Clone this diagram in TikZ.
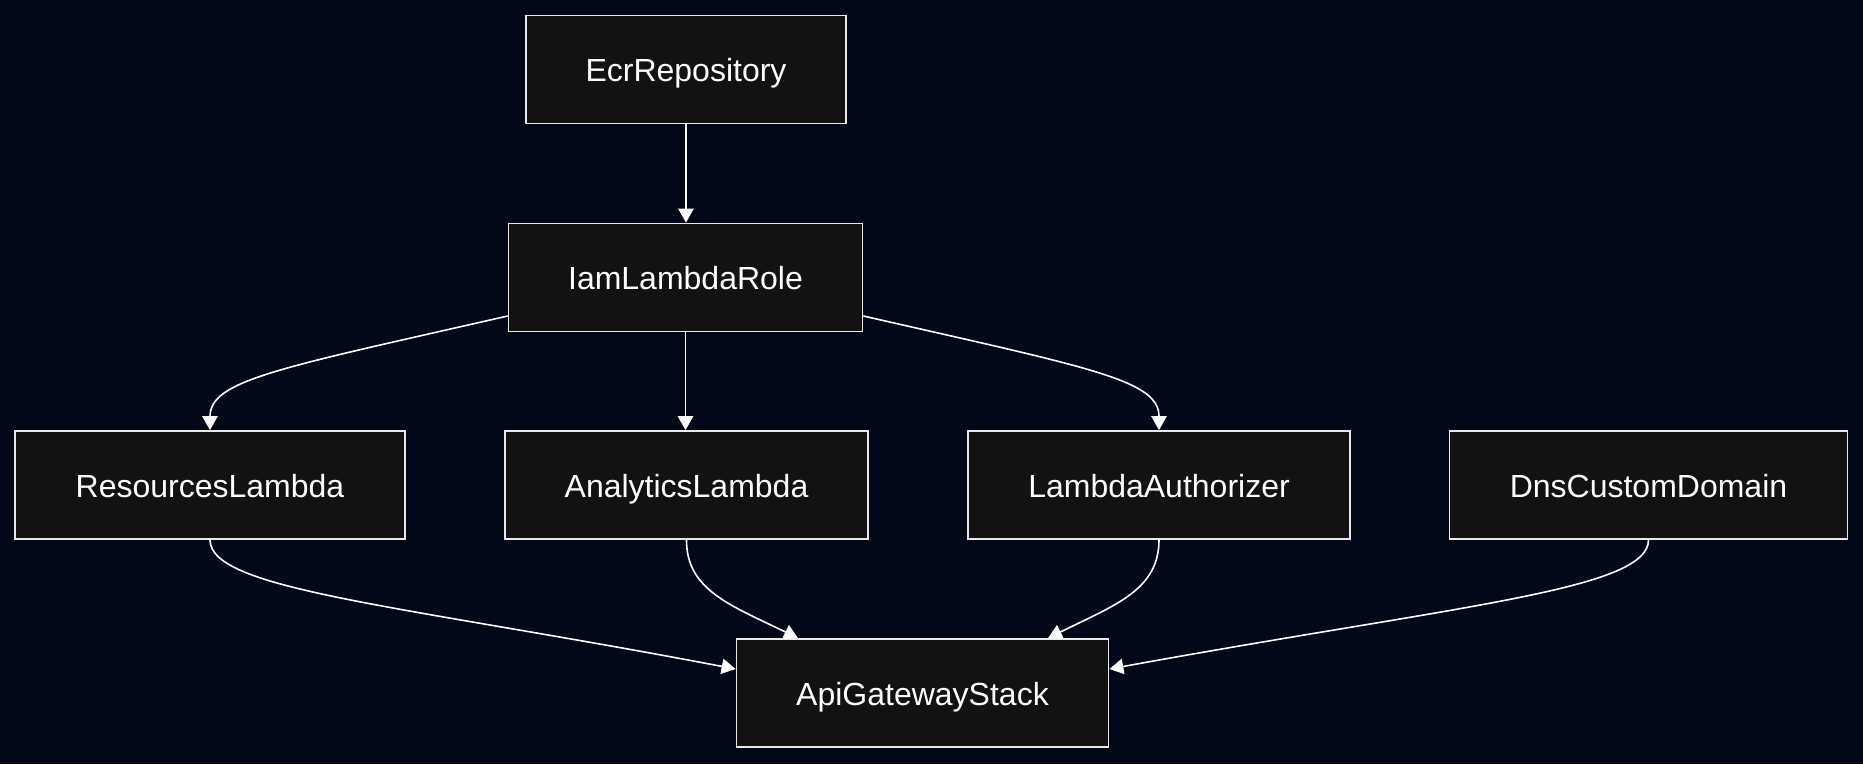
\documentclass[tikz,border=0pt]{standalone}
\usepackage{fontspec}
\setmainfont{Liberation Sans}
\usetikzlibrary{arrows.meta,calc}
\definecolor{bgc}{HTML}{020817}
\definecolor{boxfill}{HTML}{121212}
\definecolor{boxline}{HTML}{E8E8E8}
\tikzset{
  box/.style={draw=boxline, fill=boxfill, line width=1.3pt, minimum height=81pt, inner sep=0pt,
    text height=18.7pt, text depth=0pt,
    text=white, font=\fontsize{24}{28}\selectfont},
  conn/.style={draw=white, line width=1.2pt, -{Triangle[length=10.5pt,width=11.5pt]}}
}
\begin{document}
\begin{tikzpicture}[x=0.75pt,y=-0.75pt]
\fill[bgc] (0,0) rectangle (1863,764);
\useasboundingbox (0,0) rectangle (1863,764);
\node[box, minimum width=240pt] (ecr) at (686,69.5) {EcrRepository};
\node[box, minimum width=265.5pt] (iam) at (685.5,277.5) {IamLambdaRole};
\node[box, minimum width=292.5pt] (res) at (210,485) {ResourcesLambda};
\node[box, minimum width=272pt] (ana) at (686.5,485) {AnalyticsLambda};
\node[box, minimum width=286.5pt] (auth) at (1159,485) {LambdaAuthorizer};
\node[box, minimum width=298.5pt] (dns) at (1648.5,485) {DnsCustomDomain};
\node[box, minimum width=279pt] (api) at (922.5,693) {ApiGatewayStack};

\draw[conn] (ecr.south) -- (ecr.south |- iam.north);
\draw[conn] (iam.south) -- (iam.south |- ana.north);
\draw[conn] ($(iam.west)+(0,38.5)$) .. controls (280,368) and (210,380) .. (res.north);
\draw[conn] ($(iam.east)+(0,38.5)$) .. controls (1091,368) and (1159,380) .. (auth.north);
\draw[conn] (res.south) .. controls (210,590) and (400,605) .. ($(api.west)+(0,-24)$);
\draw[conn] (ana.south) .. controls (686.5,590) and (730,605) .. ($(api.north)+(-124.5,0)$);
\draw[conn] (auth.south) .. controls (1159,590) and (1115,605) .. ($(api.north)+(125.5,0)$);
\draw[conn] (dns.south) .. controls (1648.5,590) and (1460,605) .. ($(api.east)+(0,-24)$);
\end{tikzpicture}
\end{document}
